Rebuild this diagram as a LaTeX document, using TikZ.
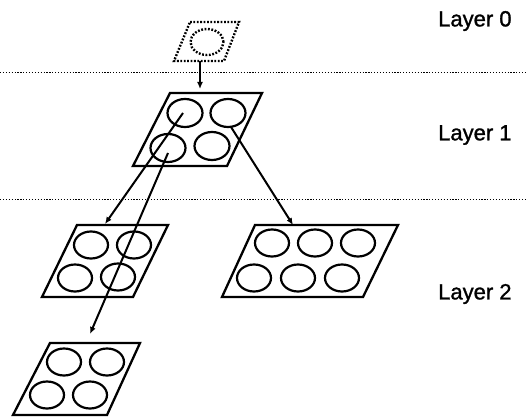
\documentclass[tikz,border=0pt]{standalone}
\usepackage{fontspec}
\setmainfont{Liberation Sans}
\newfontfamily\lblfont[FakeBold=1.2]{Liberation Sans}
\usetikzlibrary{shapes.geometric,arrows.meta}
\begin{document}
\begin{tikzpicture}[x=1pt,y=-1pt,
  plate/.style={line width=2.3pt,line join=miter},
  cell/.style={ellipse,draw,line width=2.2pt,minimum width=34pt,minimum height=27pt,inner sep=0pt},
  dotplate/.style={line width=2.4pt,dash pattern=on 1.8pt off 1.6pt},
  dotcell/.style={ellipse,draw,line width=2.4pt,dash pattern=on 1.8pt off 1.6pt,minimum width=33pt,minimum height=26pt,inner sep=0pt},
  sep/.style={line width=0.9pt,dash pattern=on 1.2pt off 1.7pt},
  link/.style={line width=2pt,-{Latex[length=7pt,width=6pt]}},
  lbl/.style={anchor=west,inner sep=0pt,font=\lblfont\fontsize{22}{24}\selectfont}]
\useasboundingbox (0,0) rectangle (526,417);
% separators
\coordinate (s1a) at (0,72); \coordinate (s1b) at (526,72);
\coordinate (s2a) at (0,199); \coordinate (s2b) at (526,199);
\draw[sep] (s1a) -- (s1b);
\draw[sep] (s2a) -- (s2b);
% labels
\node[lbl] (lab0) at (438,21) {Layer 0};
\node[lbl] (lab1) at (438,135) {Layer 1};
\node[lbl] (lab2) at (438,294) {Layer 2};
% layer 0
\draw[dotplate] (190,22) -- (239,22) -- (224,61) -- (174,61) -- cycle;
\node[dotcell] (c0) at (207,42) {};
\coordinate (p0b) at (200,61);
\coordinate (p1t) at (200,89);
\draw[link] (p0b) -- (p1t);
% layer 1
\draw[plate] (170,93) -- (262,93) -- (227,166) -- (133,166) -- cycle;
\node[cell,minimum width=35pt,minimum height=28pt] (c1a) at (185,113) {};
\node[cell,minimum width=35pt,minimum height=28pt] (c1b) at (228,113) {};
\node[cell,minimum width=35pt,minimum height=28pt] (c1c) at (168,148) {};
\node[cell,minimum width=35pt,minimum height=28pt] (c1d) at (212,146) {};
% layer 2 left
\draw[plate] (77,225) -- (168,225) -- (133,297) -- (42,297) -- cycle;
\node[cell] (l1) at (91,245) {};
\node[cell] (l2) at (134,245) {};
\node[cell] (l3) at (75,278) {};
\node[cell] (l4) at (118,277) {};
% layer 2 right
\draw[plate] (255,225) -- (398,225) -- (363,297) -- (222,297) -- cycle;
\node[cell] (r1) at (272,243) {};
\node[cell] (r2) at (315,243) {};
\node[cell] (r3) at (358,243) {};
\node[cell] (r4) at (254,278) {};
\node[cell] (r5) at (298,278) {};
\node[cell] (r6) at (342,278) {};
% bottom
\draw[plate] (50,343) -- (140,343) -- (107,415) -- (13,415) -- cycle;
\node[cell] (b1) at (64,362) {};
\node[cell] (b2) at (107,362) {};
\node[cell] (b3) at (47,395) {};
\node[cell] (b4) at (90,395) {};
% connectors
\coordinate (q1) at (183,113);
\coordinate (q1e) at (105,224);
\coordinate (q2) at (168,153);
\coordinate (q2e) at (90,334);
\coordinate (q3) at (231,127);
\coordinate (q3e) at (293,225);
\draw[link] (q1) -- (q1e);
\draw[link] (q2) -- (q2e);
\draw[link] (q3) -- (q3e);
\end{tikzpicture}
\end{document}
